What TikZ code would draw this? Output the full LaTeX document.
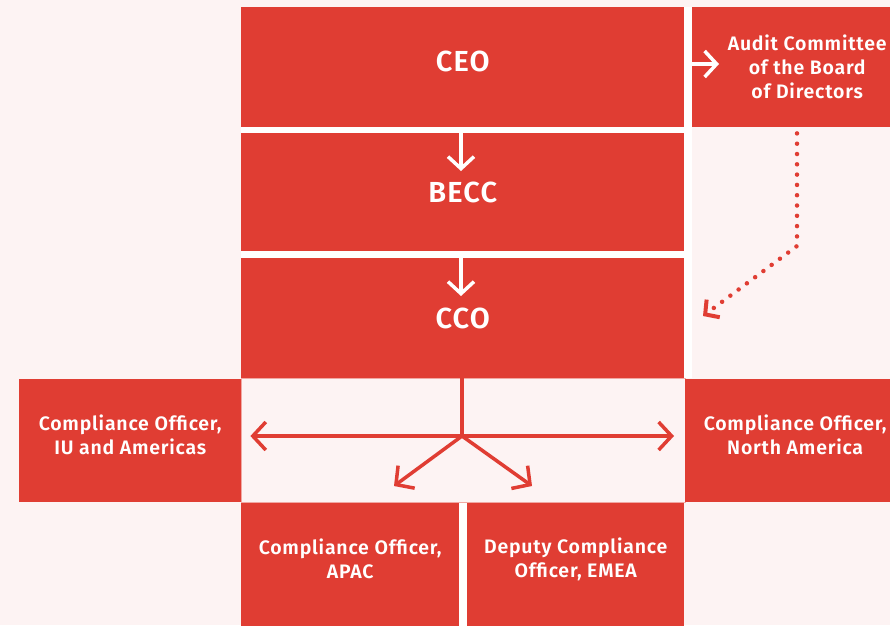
\documentclass[tikz,border=0pt]{standalone}
\usepackage{fontspec}
\setmainfont{Fira Sans}[BoldFont={Fira Sans SemiBold}, LetterSpace=4]
\usetikzlibrary{arrows.meta}
\definecolor{brandred}{HTML}{E03D33}
\definecolor{paper}{HTML}{FDF3F3}
\tikzset{
  box/.style={fill=brandred, draw=none, anchor=north west, inner sep=0pt},
  boxtext/.style={text=white, align=center, inner sep=0pt,
    font=\bfseries\fontsize{19.5}{24}\selectfont},
  bigtext/.style={boxtext, font=\bfseries\fontsize{29}{32}\selectfont},
  whitearrow/.style={draw=white, line width=3.5pt,
    -{Straight Barb[length=12pt,width=26pt,line width=3.5pt]}},
  redarrow/.style={draw=brandred, line width=3.5pt,
    -{Straight Barb[length=13pt,width=28pt,line width=3.5pt]}},
  dotarrow/.style={draw=brandred, line width=4.5pt, line cap=round,
    dash pattern=on 0pt off 10.3pt,
    -{Straight Barb[length=10pt,width=22pt,line width=4pt,line cap=butt]}}
}
\begin{document}
\begin{tikzpicture}[x=1pt, y=-1pt]
  \useasboundingbox (0,0) rectangle (890,625);
  \clip (0,0) rectangle (890,625);
  % page ground and white gutters between adjoining boxes
  \fill[paper] (0,0) rectangle (890,625);
  \fill[white] (241,7) rectangle (692,378);
  \fill[white] (241,502) rectangle (684,625);
  \draw[brandred!45, line width=0.6pt] (241,378.5) rectangle (685,502.5);

  % main chain
  \node[box, minimum width=443pt, minimum height=120pt,
    label={[bigtext, yshift=6pt]center:CEO}] (ceo) at (241,7) {};
  \node[box, minimum width=230pt, minimum height=120pt,
    label={[boxtext]center:{Audit Committee\\of the Board\\of Directors}}] (audit) at (692,7) {};
  \node[box, minimum width=443pt, minimum height=118pt,
    label={[bigtext]center:BECC}] (becc) at (241,133) {};
  \node[box, minimum width=443pt, minimum height=120pt,
    label={[bigtext]center:CCO}] (cco) at (241,258) {};

  % regional compliance officers
  \node[box, minimum width=222pt, minimum height=123pt,
    label={[boxtext, yshift=5.5pt]center:{Compliance Officer,\\IU and Americas}}] (iu) at (19,379) {};
  \node[box, minimum width=220pt, minimum height=123pt,
    label={[boxtext, yshift=5.5pt]center:{Compliance Officer,\\North America}}] (na) at (685,379) {};
  \node[box, minimum width=218pt, minimum height=124pt,
    label={[boxtext, yshift=6pt]center:{Compliance Officer,\\APAC}}] (apac) at (241,503) {};
  \node[box, minimum width=217pt, minimum height=124pt,
    label={[boxtext, yshift=6pt]center:{Deputy Compliance\\Officer, EMEA}}] (emea) at (467,503) {};

  % reporting lines inside the chain
  \coordinate (ceoAuditEnd) at (719,64);
  \draw[whitearrow] (ceo.east |- ceoAuditEnd) -- (ceoAuditEnd);
  \coordinate (beccTip) at (461,171);
  \draw[whitearrow] (becc.north -| beccTip) -- (beccTip);
  \coordinate (ccoTip) at (461,296);
  \draw[whitearrow] (cco.north -| ccoTip) -- (ccoTip);

  % dotted oversight line from the audit committee
  \coordinate (bend) at (797,246);
  \coordinate (dotTip) at (703,316);
  \draw[dotarrow] (audit.south -| bend) ++(0,6) -- (bend) -- (dotTip);

  % distribution from the CCO
  \coordinate (hub) at (462,436);
  \draw[brandred, line width=3.5pt] (cco.south -| hub) -- ([yshift=1.5pt]hub);
  \draw[redarrow] (hub) -- ([xshift=9pt]iu.east |- hub);
  \draw[redarrow] (hub) -- ([xshift=-11pt]na.west |- hub);
  \draw[redarrow] (hub) -- (394,486);
  \draw[redarrow] (hub) -- (532,486);
\end{tikzpicture}
\end{document}
